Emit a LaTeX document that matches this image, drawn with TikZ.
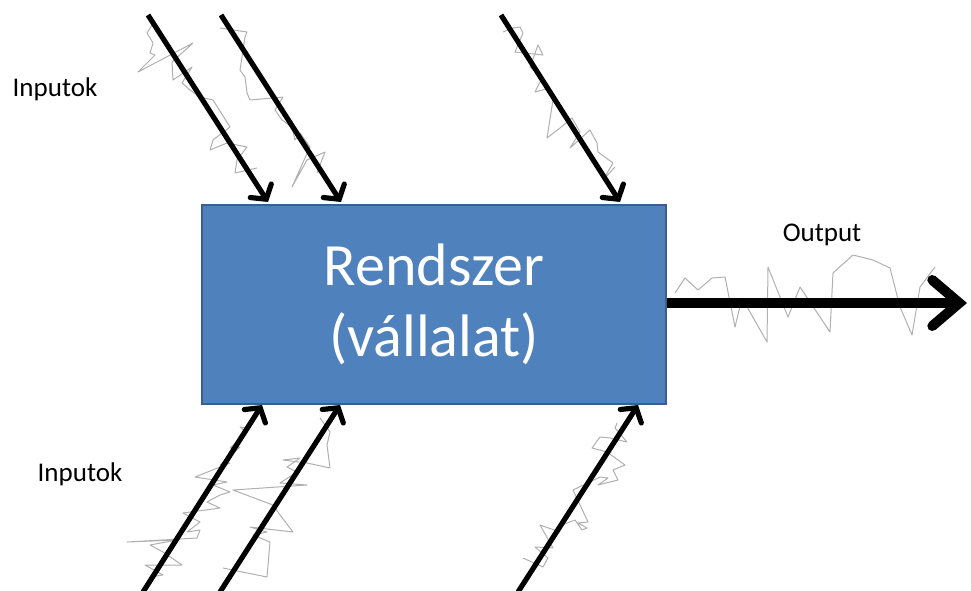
\documentclass[tikz,border=0pt]{standalone}
\usepackage{fontspec}
\setmainfont{Carlito}
\usetikzlibrary{arrows.meta}
\definecolor{boxfill}{HTML}{4F81BD}
\definecolor{boxline}{HTML}{3A5F8C}
\definecolor{noisegray}{HTML}{B0B0B0}
\tikzset{
  sysbox/.style={draw=boxline, fill=boxfill, line width=2pt, minimum width=464pt, minimum height=199pt, inner sep=0pt, anchor=north west, text=white, align=center, font=\fontsize{60}{71}\selectfont},
  lbl/.style={font=\fontsize{27}{30}\selectfont, inner sep=0pt},
  inarrow/.style={line width=5.2pt, -{Straight Barb[length=10pt, width=25pt, line cap=round, line width=5.2pt]}},
  outarrow/.style={line width=10pt, -{Straight Barb[length=27pt, width=46pt, line cap=round, line width=10pt]}},
  noise/.style={draw=noisegray, line width=1pt, line join=round}
}
\begin{document}
\begin{tikzpicture}[x=1pt, y=-1pt]
\useasboundingbox (0,0) rectangle (971,590);
\node[sysbox] (sys) at (201,204) {Rendszer\\(vállalat)};

% labels
\node[lbl] (in1) at (55,89) {Inputok};
\node[lbl] (in2) at (80,474) {Inputok};
\node[lbl] (out) at (822,235) {Output};

% noise traces
\draw[noise] (152,25)--(147,33)--(153,43)--(150,53)--(155,55)--(138,72)--(193,43)--(172,62)--(173,80)--(192,67)--(182,83)--(190,90)--(200,97)--(213,100)--(230,127)--(213,140)--(210,150)--(227,143)--(247,147)--(237,160)--(235,173)--(257,168);
\draw[noise] (220,28)--(247,32)--(245,37)--(240,70)--(245,77)--(247,93)--(250,100)--(273,98)--(283,97)--(275,110)--(282,120)--(292,127)--(295,140)--(300,133)--(310,147)--(292,187)--(307,160)--(325,152)--(317,173);
\draw[noise] (503,32)--(513,28)--(520,27)--(523,33)--(515,52)--(543,55)--(538,45)--(530,67)--(542,78)--(535,92)--(550,88)--(553,100)--(547,138)--(560,128)--(572,118)--(580,132)--(570,148)--(590,130)--(597,143)--(598,152)--(613,163)--(603,180)--(615,167);
\draw[noise] (247,428)--(240,427)--(247,433)--(230,448)--(240,447)--(220,465)--(230,463)--(195,477)--(227,482)--(213,485)--(230,492)--(220,495)--(207,502)--(220,508)--(183,513)--(200,522)--(187,532)--(200,530)--(197,538)--(127,542)--(177,540)--(150,545)--(163,552)--(182,565)--(145,565)--(163,575)--(150,577);
\draw[noise] (320,418)--(330,432)--(327,445)--(330,468)--(307,463)--(283,460)--(300,458)--(287,467)--(297,472)--(280,483)--(307,485)--(233,490)--(273,505)--(280,515)--(293,532)--(250,527)--(267,532)--(253,535)--(270,542)--(267,577)--(223,568);
\draw[noise] (617,423)--(615,428)--(627,442)--(610,438)--(600,437)--(592,448)--(607,452)--(625,465)--(613,470)--(618,480)--(598,485)--(608,478)--(600,477)--(573,490)--(588,522)--(578,523)--(587,528)--(582,530)--(575,520)--(557,527)--(560,532)--(540,525)--(553,548)--(535,547)--(548,558)--(543,567)--(523,558);
\draw[noise] (675,293)--(685,278)--(698,290)--(712,278)--(725,277)--(735,327)--(742,298)--(767,342)--(768,267)--(788,317)--(800,287)--(830,332)--(833,273)--(853,255)--(873,260)--(890,268)--(900,307)--(912,335)--(920,287)--(935,267);

% arrow endpoints
\coordinate (a1s) at (148,15);  \coordinate (a1e) at (268,202);
\coordinate (a2s) at (221,15);  \coordinate (a2e) at (341,202);
\coordinate (a3s) at (501,15);  \coordinate (a3e) at (620,202);
\coordinate (b1s) at (143,592); \coordinate (b1e) at (262,405);
\coordinate (b2s) at (220,592); \coordinate (b2e) at (340,405);
\coordinate (b3s) at (518,592); \coordinate (b3e) at (638,405);
\coordinate (oe) at (967,303);

\draw[inarrow] (a1s) -- (a1e);
\draw[inarrow] (a2s) -- (a2e);
\draw[inarrow] (a3s) -- (a3e);
\draw[inarrow] (b1s) -- (b1e);
\draw[inarrow] (b2s) -- (b2e);
\draw[inarrow] (b3s) -- (b3e);
\draw[outarrow] (sys.east |- oe) -- (oe);
\end{tikzpicture}
\end{document}
